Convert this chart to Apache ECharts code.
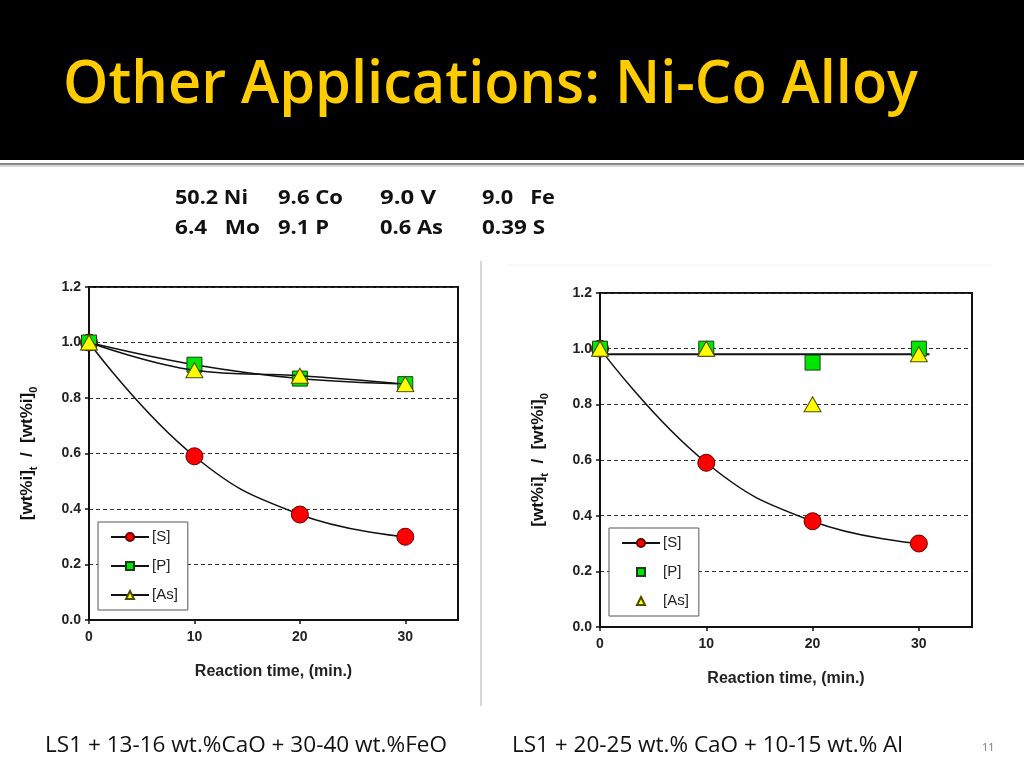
<!DOCTYPE html>
<html><head><meta charset="utf-8">
<script src="https://cdn.jsdelivr.net/npm/echarts@6/dist/echarts.min.js"></script>
<style>html,body{margin:0;padding:0;background:#fff}#c{width:1024px;height:768px}</style>
</head><body><div id="c"></div>
<script>
// ---- data ----
const times = [0, 10, 20, 30];
const leftS = [1.0, 0.59, 0.38, 0.30];
const leftP = [1.0, 0.92, 0.87, 0.85];
const leftAs = [1.0, 0.90, 0.88, 0.85];
const rightS = [1.0, 0.59, 0.38, 0.30];
const rightP = [1.0, 1.0, 0.95, 1.0];
const rightAs = [1.0, 1.0, 0.80, 0.98];
const rightFitX = [0, 31];
const rightFitY = [0.98, 0.98];
const yTicks = ['0.0', '0.2', '0.4', '0.6', '0.8', '1.0', '1.2'];
const xTicks = ['0', '10', '20', '30'];
const legendNames = ['[S]', '[P]', '[As]'];
const titleText = 'Other Applications: Ni-Co Alloy';
const compositionRow1 = ['50.2 Ni', '9.6 Co', '9.0 V', '9.0   Fe'];
const compositionRow2 = ['6.4   Mo', '9.1 P', '0.6 As', '0.39 S'];
const captions = ['LS1 + 13-16 wt.%CaO + 30-40 wt.%FeO', 'LS1 + 20-25 wt.% CaO + 10-15 wt.% Al'];
const pageNumber = '11';
const yAxisName = '{m|[wt%i]}{s|t}{m|  /  [wt%i]}{s|0}';
const xAxisName = 'Reaction time, (min.)';

// ---- helpers ----
const zip = (xs, ys) => xs.map((x, i) => [x, ys[i]]);
const mctx = document.createElement('canvas').getContext('2d');
function fitScale(text, font, target) { mctx.font = font; const w = mctx.measureText(text).width; return w > 0 ? target / w : 1; }
function txt(text, x, y, font, fill, targetW) {
  const s = targetW ? fitScale(text, font, targetW) : 1;
  return { type: 'text', x: x, y: y, scaleX: s, z: 10,
    style: { text: text, font: font, fill: fill, align: 'left', verticalAlign: 'middle' } };
}

const AX = '#111';
const labelFont = { fontFamily: 'Liberation Sans', fontWeight: 'bold', fontSize: 14, color: '#222' };
function yAxis(gi) {
  return {
    gridIndex: gi, type: 'value', min: 0, max: 1.2, interval: 0.2,
    axisLine: { show: true, lineStyle: { color: AX, width: 2 } },
    axisTick: { show: true, length: 4, lineStyle: { color: AX, width: 1.5 } },
    axisLabel: Object.assign({ margin: 8, formatter: v => yTicks[Math.round(v / 0.2)] || '' }, labelFont),
    splitLine: { show: true, lineStyle: { type: [4, 3], color: '#333', width: 1 } },
    name: yAxisName, nameLocation: 'middle', nameGap: 50,
    nameTextStyle: { rich: {
      m: { fontFamily: 'Liberation Sans', fontWeight: 'bold', fontSize: 17, color: '#111', lineHeight: 24, verticalAlign: 'middle' },
      s: { fontFamily: 'Liberation Sans', fontWeight: 'bold', fontSize: 11, color: '#111', lineHeight: 24, verticalAlign: 'bottom' }
    } }
  };
}
function xAxis(gi) {
  return {
    gridIndex: gi, type: 'value', min: 0, max: 35, interval: 10,
    axisLine: { show: true, onZero: false, lineStyle: { color: AX, width: 2 } },
    axisTick: { show: true, length: 4, lineStyle: { color: AX, width: 1.5 } },
    axisLabel: Object.assign({ margin: 10, showMaxLabel: false, formatter: v => (v % 10 === 0 && xTicks[v / 10]) || '' }, labelFont),
    splitLine: { show: false },
    name: xAxisName, nameLocation: 'middle', nameGap: 44,
    nameTextStyle: { fontFamily: 'Liberation Sans', fontWeight: 'bold', fontSize: 16, color: '#222' }
  };
}
const symS = { symbol: 'circle', symbolSize: 17, itemStyle: { color: '#ff0000', borderColor: '#600000', borderWidth: 1 } };
const symP = { symbol: 'rect', symbolSize: 15, itemStyle: { color: '#00e600', borderColor: '#1d3d1d', borderWidth: 1 } };
const symAs = { symbol: 'triangle', symbolSize: [17, 15], itemStyle: { color: '#ffff00', borderColor: '#4d4d00', borderWidth: 1 } };
const lineSt = { color: '#111', width: 1.5 };
const noLine = { color: '#111', width: 0, opacity: 0 };

function legend(left, top, names) {
  return {
    data: names, orient: 'vertical', left: left, top: top,
    itemWidth: 38, itemHeight: 10, itemGap: 11,
    padding: [6, 10, 6, 12], backgroundColor: '#fff', borderColor: '#555', borderWidth: 1,
    formatter: n => n.trim(),
    textStyle: { fontFamily: 'Liberation Sans', fontSize: 15, color: '#222', lineHeight: 18, padding: [0, 0, 0, -2] },
    selectedMode: false, z: 5
  };
}

const option = {
  animation: false,
  backgroundColor: '#fff',
  grid: [
    { left: 89, top: 287, width: 369, height: 333, show: true, borderColor: AX, borderWidth: 2, backgroundColor: 'transparent' },
    { left: 600, top: 293, width: 372, height: 334, show: true, borderColor: AX, borderWidth: 2, backgroundColor: 'transparent' }
  ],
  xAxis: [xAxis(0), xAxis(1)],
  yAxis: [yAxis(0), yAxis(1)],
  legend: [legend(98, 522, legendNames), legend(609, 528, legendNames.map(n => n + ' '))],
  series: [
    Object.assign({ type: 'line', name: '[S]', xAxisIndex: 0, yAxisIndex: 0, data: zip(times, leftS), smooth: 0.45, lineStyle: lineSt, z: 3 }, symS),
    Object.assign({ type: 'line', name: '[P]', xAxisIndex: 0, yAxisIndex: 0, data: zip(times, leftP), smooth: 0.4, lineStyle: lineSt, z: 4 }, symP),
    Object.assign({ type: 'line', name: '[As]', xAxisIndex: 0, yAxisIndex: 0, data: zip(times, leftAs), smooth: 0.4, lineStyle: lineSt, z: 5 }, symAs),
    Object.assign({ type: 'line', name: '[S] ', xAxisIndex: 1, yAxisIndex: 1, data: zip(times, rightS), smooth: 0.45, lineStyle: lineSt, z: 3 }, symS),
    { type: 'line', name: 'fit', xAxisIndex: 1, yAxisIndex: 1, data: zip(rightFitX, rightFitY), showSymbol: false, symbol: 'none', lineStyle: { color: '#111', width: 2 }, z: 2 },
    Object.assign({ type: 'line', name: '[P] ', xAxisIndex: 1, yAxisIndex: 1, data: zip(times, rightP), lineStyle: noLine, z: 4 }, symP),
    Object.assign({ type: 'line', name: '[As] ', xAxisIndex: 1, yAxisIndex: 1, data: zip(times, rightAs), lineStyle: noLine, z: 5 }, symAs)
  ],
  graphic: [
    { type: 'rect', shape: { x: 0, y: 0, width: 1024, height: 160 }, style: { fill: '#000' }, z: 1 },
    { type: 'rect', shape: { x: 0, y: 163, width: 1024, height: 2 }, style: { fill: '#8a8a8a' }, z: 1 },
    { type: 'rect', shape: { x: 0, y: 165, width: 1024, height: 2 }, style: { fill: '#d8d8d8' }, z: 1 },
    { type: 'line', shape: { x1: 481, y1: 261, x2: 481, y2: 706 }, style: { stroke: '#c8c8c8', lineWidth: 1.5 }, z: 1 },
    { type: 'line', shape: { x1: 508, y1: 265, x2: 992, y2: 265 }, style: { stroke: '#f0f0f0', lineWidth: 1 }, z: 1 },
    txt(titleText, 63, 86, '600 60px "Open Sans"', '#ffcc00', 855),
    txt(compositionRow1[0], 175, 198, 'bold 20px "Open Sans"', '#111', 73),
    txt(compositionRow1[1], 278, 198, 'bold 20px "Open Sans"', '#111', 65),
    txt(compositionRow1[2], 380, 198, 'bold 20px "Open Sans"', '#111', 56),
    txt(compositionRow1[3], 482, 198, 'bold 20px "Open Sans"', '#111', 73),
    txt(compositionRow2[0], 175, 228, 'bold 20px "Open Sans"', '#111', 85),
    txt(compositionRow2[1], 278, 228, 'bold 20px "Open Sans"', '#111', 51),
    txt(compositionRow2[2], 380, 228, 'bold 20px "Open Sans"', '#111', 63),
    txt(compositionRow2[3], 482, 228, 'bold 20px "Open Sans"', '#111', 63),
    txt(captions[0], 45, 746, '22px "Open Sans"', '#111', 402),
    txt(captions[1], 512, 746, '22px "Open Sans"', '#111', 391),
    txt(pageNumber, 982, 748, '11px "Open Sans"', '#777', 0)
  ]
};
const chart = echarts.init(document.getElementById('c'), null, { renderer: 'canvas' });
chart.setOption(option);
</script></body></html>
